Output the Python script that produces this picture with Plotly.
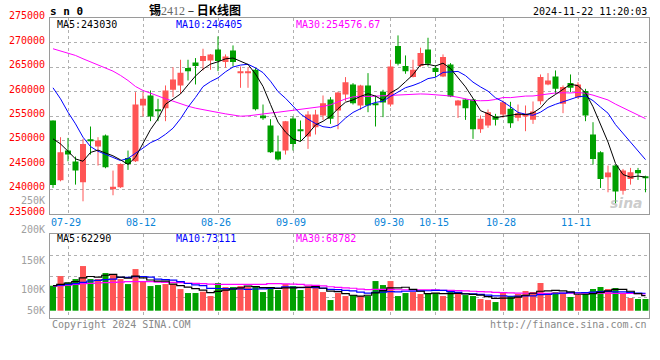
import plotly.graph_objects as go
import numpy as np

# ---------------- data ----------------
dates = ["07-25","07-26","07-29","07-30","07-31","08-01","08-02","08-05","08-06","08-07",
         "08-08","08-09","08-12","08-13","08-14","08-15","08-16","08-19","08-20","08-21",
         "08-22","08-23","08-26","08-27","08-28","08-29","08-30","09-02","09-03","09-04",
         "09-05","09-06","09-09","09-10","09-11","09-12","09-13","09-18","09-19","09-20",
         "09-23","09-24","09-25","09-26","09-27","09-30","10-08","10-09","10-10","10-11",
         "10-14","10-15","10-16","10-17","10-18","10-21","10-22","10-23","10-24","10-25",
         "10-28","10-29","10-30","10-31","11-01","11-04","11-05","11-06","11-07","11-08",
         "11-11","11-12","11-13","11-14","11-15","11-18","11-19","11-20","11-21","11-22"]

opens = [254100,241860,247940,245690,241450,250260,248760,251010,240020,240430,
         246440,245750,257160,259210,256410,256610,260370,261260,264810,265970,
         266240,266380,268630,266040,268430,263900,263780,264470,255110,253060,
         247730,247940,254500,252310,250810,252720,255110,258390,256140,259410,
         261460,257160,261260,257640,259960,257360,269320,265220,262970,265220,
         268630,264810,263100,265560,257160,258390,258390,252310,253060,254970,
         255320,256480,254630,254910,254220,258050,261460,263100,257500,261740,
         258870,260100,251220,247600,242470,244870,239740,242130,243980,242680]
highs = [254100,250670,250530,246710,250330,252860,250670,251220,243840,245300,
         247940,259890,259890,260230,258530,261260,265010,266520,266520,266860,
         268770,267700,271300,267610,269450,265150,265010,264810,257360,254360,
         251010,254000,254910,254090,256000,256270,259210,258870,260000,262970,
         261740,261400,263780,259210,260370,266520,271500,267400,266520,268980,
         271020,265360,267610,265830,258300,258530,258530,255110,256340,255450,
         258180,257910,257360,257160,257980,263510,263780,264330,261260,263510,
         261940,260570,253740,247800,244870,245000,244180,244390,244390,242800]
lows = [240300,241650,245750,240970,237560,247120,244870,244320,238790,240300,
        243980,245600,254910,253950,253950,253950,258870,259550,262280,261460,
        264330,264470,264190,264880,265150,260780,260780,256140,254220,247460,
        245890,247120,247940,249850,248280,251220,254220,253400,252310,258050,
        257360,256270,255790,252860,254770,256950,265360,263650,262900,265010,
        265150,262970,262970,258870,254630,254220,250330,251560,252590,253060,
        254630,252590,253950,251900,253400,257360,261300,259550,255590,259890,
        258530,253950,245070,240290,239400,237150,238920,240970,241930,239400]
closes = [240900,247600,247120,243840,249300,249920,249990,244520,240560,245210,
          245210,257360,258530,254910,256140,260230,262490,263850,264190,265220,
          267270,267610,266240,267200,266040,264190,264120,256410,254560,247600,
          246090,253950,249300,252040,255320,255320,257640,254430,259820,261940,
          257640,261260,257160,257360,257770,265150,265700,264190,264470,267880,
          265700,263990,267060,259000,258180,256610,252310,254430,255790,254220,
          257840,253540,255590,255320,255930,262970,262280,260570,260920,260780,
          261460,255110,246230,242130,243430,239540,243840,243500,243300,242340]

ma5_head = [250330, 249300, 247800, 246230]
ma10_head = [260780, 258530, 255790, 253400, 250670, 248760, 247800, 247120, 246440]
ma30_head = [268770, 268290, 267880, 267400, 266720, 266110, 265490, 264880, 264190, 263310,
             262280, 261050, 260230, 259690, 259070, 258530, 258050, 257500, 257020, 256610,
             256270, 256000, 255730, 255450, 255180, 254970, 255040, 255180, 255320]

volumes = [103800,144000,117700,131500,185500,131500,131500,156400,148100,131500,
           110700,173000,120500,102400,106600,110700,110700,89900,73400,73400,
           78900,60900,114900,98300,98300,102400,98300,102400,77500,98300,
           85800,110700,102400,85800,102400,98300,77500,44300,73400,60900,
           65000,60900,60900,123200,106600,123200,60900,73400,77500,69300,
           73400,73400,60900,77500,73400,65000,60900,48500,44300,36000,
           73400,60900,69300,81700,77500,114900,69300,77500,73400,56800,
           65000,69300,89900,98300,89900,94200,69300,52600,48500,48500]
vma5_head = [103900, 109400, 115000, 120500]
vma10_head = [103900, 106600, 109400, 112200, 117700, 123300, 126000, 128800, 131600]
vma30_head = [102500, 103900, 106600, 109400, 112200, 113600, 115000, 116300, 117700, 119100,
              120500, 120500, 120500, 120500, 119100, 117700, 117700, 116300, 115000, 113600,
              112200, 110800, 109400, 109400, 109400, 109400, 109400, 109400, 109400]

price_ticks = [235000, 240000, 245000, 250000, 255000, 260000, 265000, 270000, 275000]
date_ticks = ["07-29", "08-12", "08-26", "09-09", "09-30", "10-15", "10-28", "11-11"]
vol_labels = ["250K", "200K", "150K", "100K", "50K"]
ma_text = ["MA5:243030", "MA10:246405", "MA30:254576.67"]
vma_text = ["MA5:62290", "MA10:73111", "MA30:68782"]

# ---------------- helpers ----------------
W, H = 660, 360
def px(x): return x / W
def py(y): return 1 - y / H

def moving_avg(vals, n, head):
    out = []
    for i in range(len(vals)):
        if i < n - 1:
            out.append(head[i])
        else:
            out.append(float(np.mean(vals[i - n + 1:i + 1])))
    return out

RED = "#ff5555"
GREEN = "#00a000"
MONO = "DejaVu Sans Mono"

up = [c >= o for o, c in zip(opens, closes)]
colors = [RED if u else GREEN for u in up]
idx = list(range(len(dates)))

fig = go.Figure()

# wicks
for flag, col in ((True, RED), (False, GREEN)):
    xs, ys = [], []
    for i, h, l, u in zip(idx, highs, lows, up):
        if u == flag:
            xs += [i, i, None]
            ys += [l, h, None]
    fig.add_trace(go.Scatter(x=xs, y=ys, mode="lines", line=dict(color=col, width=1),
                             hoverinfo="skip", showlegend=False, xaxis="x", yaxis="y"))

# bodies
bases = [min(o, c) for o, c in zip(opens, closes)]
heights = [abs(c - o) for o, c in zip(opens, closes)]
fig.add_trace(go.Bar(x=idx, y=heights, base=bases, width=0.8,
                     marker=dict(color=colors, line=dict(width=0)),
                     showlegend=False, hoverinfo="skip", xaxis="x", yaxis="y"))

# price MAs
for n, head, col in ((30, ma30_head, "#ff00ff"), (10, ma10_head, "#0000ff"), (5, ma5_head, "#000000")):
    fig.add_trace(go.Scatter(x=idx, y=moving_avg(closes, n, head), mode="lines",
                             line=dict(color=col, width=1), hoverinfo="skip",
                             showlegend=False, xaxis="x", yaxis="y"))

# volume bars
fig.add_trace(go.Bar(x=idx, y=volumes, width=0.8,
                     marker=dict(color=colors, line=dict(width=0)),
                     showlegend=False, hoverinfo="skip", xaxis="x2", yaxis="y2"))
for n, head, col in ((30, vma30_head, "#ff00ff"), (10, vma10_head, "#0000ff"), (5, vma5_head, "#000000")):
    fig.add_trace(go.Scatter(x=idx, y=moving_avg(volumes, n, head), mode="lines",
                             line=dict(color=col, width=1.2, shape="hvh"), hoverinfo="skip",
                             showlegend=False, xaxis="x2", yaxis="y2"))

# ---------------- layout ----------------
x0, x1 = 50, 649.3
step = 7.5
xr = [-(53 - x0) / step, (x1 - 53) / step]
tick_idx = [dates.index(d) for d in date_ticks]

vol_top_px, vol_bot_px, vol_zero_px = 234, 318, 310.7
vscale = 4155
vrange = [-(vol_bot_px - vol_zero_px) * vscale, (vol_zero_px - vol_top_px) * vscale]
vgrid = list(np.linspace(vrange[0], vrange[1], 5)[1:4])

axis_common = dict(showline=True, mirror=True, linecolor="#9a9a9a", linewidth=1,
                   gridcolor="#b0b0b0", griddash="dot", gridwidth=1, zeroline=False,
                   showticklabels=False, ticks="", fixedrange=True, automargin=False)

fig.update_layout(
    width=W, height=H, margin=dict(l=0, r=0, t=0, b=0, pad=0),
    paper_bgcolor="white", plot_bgcolor="white", barmode="overlay",
    showlegend=False,
    xaxis=dict(range=xr, domain=[px(x0), px(x1)], anchor="y",
               tickmode="array", tickvals=tick_idx, showgrid=True, **axis_common),
    yaxis=dict(range=[235000, 275000], domain=[py(213.8), py(18.3)], anchor="x",
               tickmode="array", tickvals=price_ticks[1:-1], showgrid=True, **axis_common),
    xaxis2=dict(range=xr, domain=[px(x0), px(x1)], anchor="y2",
                tickmode="array", tickvals=tick_idx, showgrid=True, **axis_common),
    yaxis2=dict(range=vrange, domain=[py(vol_bot_px), py(vol_top_px)], anchor="x2",
                tickmode="array", tickvals=vgrid, showgrid=True, **axis_common),
)

ann = []
def text(x, y, s, color="#000", size=10, anchor="left", family=MONO, **kw):
    ann.append(dict(x=px(x), y=py(y), xref="paper", yref="paper", text=s, showarrow=False,
                    xanchor=anchor, yanchor="middle", font=dict(family=family, size=size, color=color), **kw))

# price tick labels
for v in price_ticks:
    ann.append(dict(x=px(47), y=v, xref="paper", yref="y", yshift=2.5, text=str(v),
                    showarrow=False, xanchor="right", yanchor="middle",
                    font=dict(family=MONO, size=10, color="#ff0000")))
# date labels
for d, i in zip(date_ticks, tick_idx):
    ann.append(dict(x=i, y=py(222), xref="x", yref="paper", text=d, showarrow=False,
                    xanchor="center", yanchor="middle", xshift=-2,
                    font=dict(family=MONO, size=10, color="#0a84d8")))
# volume labels (Sina places them on its own grid)
for s, yy in zip(vol_labels, [200.7, 230, 260.7, 289, 310.7]):
    text(47, yy, s, color="#a0a0a0", anchor="right")

# MA legends
for s, xx, col in zip(ma_text, [55, 174, 294], ["#000000", "#0000ff", "#ff00ff"]):
    text(xx, 24.5, s, color=col)
for s, xx, col in zip(vma_text, [55, 174, 294], ["#000000", "#0000ff", "#ff00ff"]):
    text(xx, 238.5, s, color=col)

# header
text(48, 11, "<b>s n 0</b>", size=11)
text(195, 9, '<b>锡</b><span style="color:#666;font-family:Liberation Serif">2412</span> – <b>日K线图</b>',
     size=12, anchor="center", family="Noto Sans CJK SC")
text(649, 11, "2024-11-22 11:20:03", anchor="right")
# footer
text(50, 324, "Copyright 2024 SINA.COM", color="#888888")
text(649, 324, "http://finance.sina.com.cn", color="#888888", anchor="right")
# watermark
text(645, 203, "<b><i>sina</i></b>", color="rgba(160,160,160,0.55)", size=14,
     anchor="right", family="DejaVu Sans")

fig.update_layout(annotations=ann)
fig.write_html("out.html", config={"displayModeBar": False},
               post_script="document.body.style.margin='0px';document.body.style.overflow='hidden';")
